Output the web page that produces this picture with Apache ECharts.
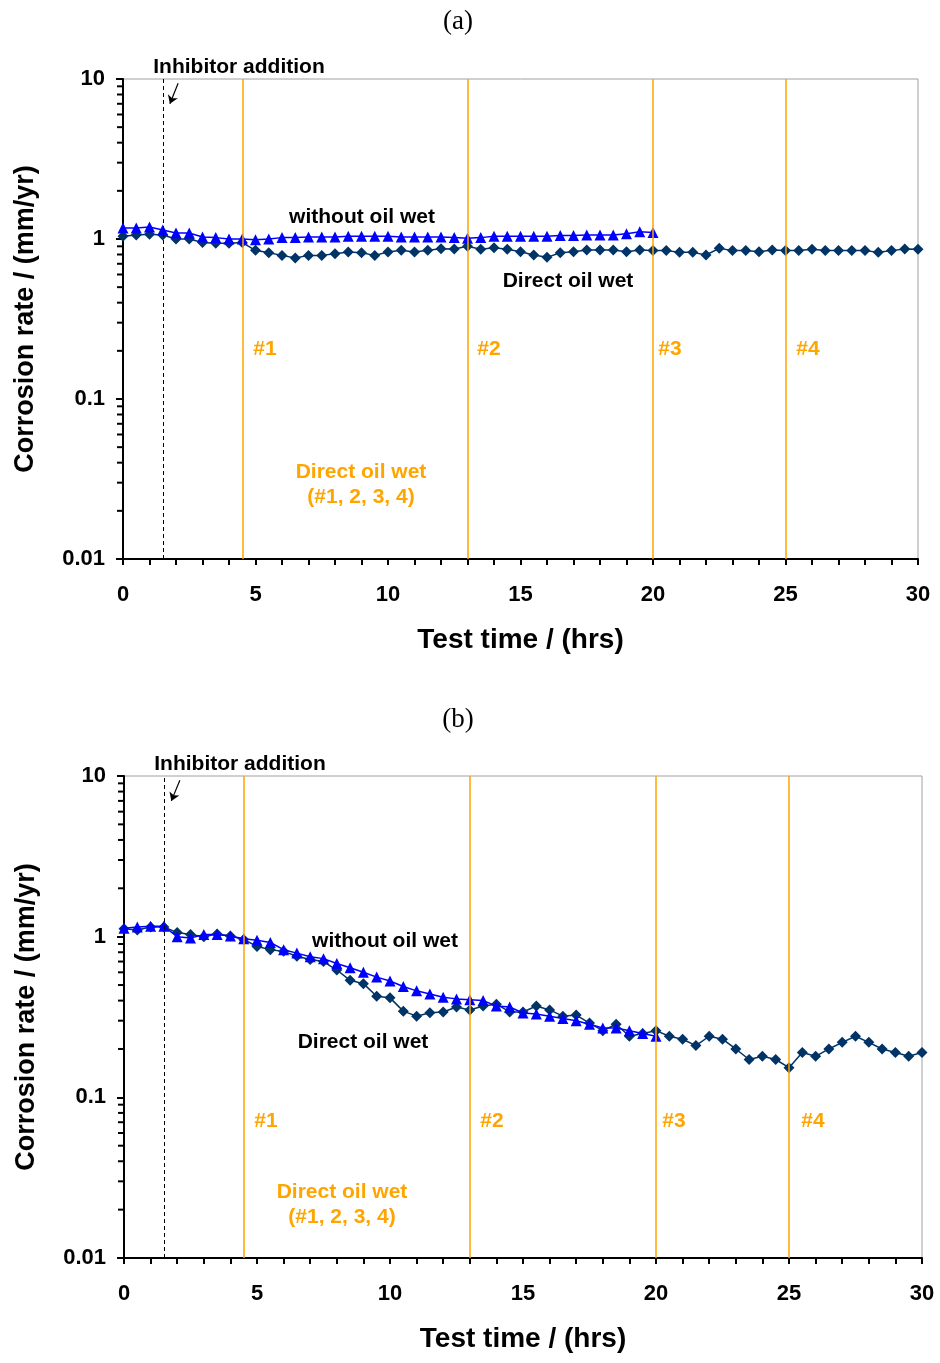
<!DOCTYPE html>
<html>
<head>
<meta charset="utf-8">
<script src="https://cdn.jsdelivr.net/npm/echarts@6/dist/echarts.min.js"></script>
<style>
  html, body { margin: 0; padding: 0; background: #fff; }
  #chart { width: 940px; height: 1363px; }
</style>
</head>
<body>
<div id="chart"></div>
<script>
// test time, hrs (readings every half hour)
var timeWithout = [0, 0.5, 1, 1.5, 2, 2.5, 3, 3.5, 4, 4.5, 5, 5.5, 6, 6.5, 7, 7.5, 8, 8.5, 9, 9.5,
  10, 10.5, 11, 11.5, 12, 12.5, 13, 13.5, 14, 14.5, 15, 15.5, 16, 16.5, 17, 17.5, 18, 18.5, 19, 19.5, 20];
var timeDirect = [0, 0.5, 1, 1.5, 2, 2.5, 3, 3.5, 4, 4.5, 5, 5.5, 6, 6.5, 7, 7.5, 8, 8.5, 9, 9.5,
  10, 10.5, 11, 11.5, 12, 12.5, 13, 13.5, 14, 14.5, 15, 15.5, 16, 16.5, 17, 17.5, 18, 18.5, 19, 19.5,
  20, 20.5, 21, 21.5, 22, 22.5, 23, 23.5, 24, 24.5, 25, 25.5, 26, 26.5, 27, 27.5, 28, 28.5, 29, 29.5, 30];

// (a) corrosion rate, mm/yr
var aWithout = [1.17, 1.17, 1.19, 1.14, 1.09, 1.09, 1.03, 1.02, 1.0, 1.0, 0.99, 1.0, 1.02, 1.02, 1.03, 1.03,
  1.03, 1.04, 1.04, 1.04, 1.04, 1.03, 1.03, 1.03, 1.03, 1.02, 1.01, 1.02, 1.04, 1.04, 1.04, 1.04, 1.04,
  1.05, 1.05, 1.06, 1.06, 1.06, 1.08, 1.11, 1.1];
var aDirect = [1.04, 1.06, 1.07, 1.06, 1.0, 1.0, 0.95, 0.94, 0.94, 0.95, 0.85, 0.82, 0.79, 0.76, 0.79, 0.79,
  0.81, 0.83, 0.82, 0.79, 0.83, 0.85, 0.83, 0.85, 0.87, 0.865, 0.9, 0.862, 0.883, 0.862, 0.833, 0.794,
  0.768, 0.821, 0.833, 0.853, 0.853, 0.853, 0.833, 0.853, 0.846, 0.846, 0.825, 0.825, 0.794, 0.874,
  0.846, 0.846, 0.833, 0.853, 0.846, 0.846, 0.862, 0.846, 0.846, 0.846, 0.846, 0.825, 0.846, 0.866, 0.862];

// (b) corrosion rate, mm/yr
var bWithout = [1.13, 1.15, 1.16, 1.16, 1.0, 0.98, 1.03, 1.03, 1.01, 0.97, 0.95, 0.92, 0.83, 0.79, 0.75,
  0.73, 0.68, 0.64, 0.60, 0.56, 0.53, 0.49, 0.46, 0.44, 0.42, 0.41, 0.405, 0.40, 0.37, 0.365, 0.335,
  0.33, 0.32, 0.31, 0.30, 0.285, 0.27, 0.27, 0.26, 0.25, 0.24];
var bDirect = [1.12, 1.1, 1.15, 1.15, 1.06, 1.03, 1.0, 1.04, 1.01, 0.96, 0.87, 0.83, 0.81, 0.755, 0.72,
  0.7, 0.62, 0.535, 0.51, 0.426, 0.416, 0.344, 0.32, 0.336, 0.34, 0.365, 0.35, 0.37, 0.38, 0.34, 0.34,
  0.37, 0.35, 0.32, 0.325, 0.29, 0.26, 0.285, 0.24, 0.25, 0.26, 0.24, 0.23, 0.21, 0.24, 0.23, 0.20,
  0.172, 0.18, 0.172, 0.153, 0.19, 0.18, 0.20, 0.22, 0.24, 0.22, 0.20, 0.19, 0.18, 0.19];

var eventTimes = [4.5, 13, 20, 25];   // #1..#4 oil wet events
var inhibitorTime = 1.5;
var minorTickValues = [0.02, 0.03, 0.04, 0.05, 0.06, 0.07, 0.08, 0.09,
  0.2, 0.3, 0.4, 0.5, 0.6, 0.7, 0.8, 0.9, 2, 3, 4, 5, 6, 7, 8, 9];

var ORANGE = '#FFA500';
var NAVY = '#003366';
var FONT = 'Liberation Sans, Arial, sans-serif';

function pairs(xs, ys) {
  return ys.map(function (v, i) { return [xs[i], v]; });
}

var chart = echarts.init(document.getElementById('chart'));

function makeX(idx) {
  return {
    gridIndex: idx, type: 'value', min: 0, max: 30, interval: 1,
    name: 'Test time / (hrs)', nameLocation: 'middle', nameGap: 67,
    nameTextStyle: { fontFamily: FONT, fontWeight: 'bold', fontSize: 28, color: '#000' },
    axisLine: { onZero: false, lineStyle: { color: '#000', width: 2 } },
    axisTick: { length: 6, lineStyle: { color: '#000', width: 2 } },
    axisLabel: {
      margin: 25, fontFamily: FONT, fontWeight: 'bold', fontSize: 22, color: '#000',
      formatter: function (v) { return v % 5 === 0 ? v : ''; }
    },
    splitLine: { show: false }
  };
}
function makeY(idx) {
  return {
    gridIndex: idx, type: 'log', logBase: 10, min: 0.01, max: 10, interval: 1,
    name: 'Corrosion rate / (mm/yr)', nameLocation: 'middle', nameGap: 84,
    nameTextStyle: { fontFamily: FONT, fontWeight: 'bold', fontSize: 27, color: '#000' },
    axisLine: { lineStyle: { color: '#000', width: 2 } },
    axisTick: { length: 7, lineStyle: { color: '#000', width: 2 } },
    axisLabel: { margin: 18, fontFamily: FONT, fontWeight: 'bold', fontSize: 22, color: '#000' },
    splitLine: { show: false }
  };
}

function vlines() {
  var d = eventTimes.map(function (t) {
    return { xAxis: t, lineStyle: { color: ORANGE, width: 1.5, type: 'solid' } };
  });
  d.push({ xAxis: inhibitorTime, lineStyle: { color: '#000', width: 1, type: [4, 3] } });
  return d;
}

function seriesFor(idx, without, direct, arrow) {
  return [
    {
      type: 'line', xAxisIndex: idx, yAxisIndex: idx, data: pairs(timeDirect, direct),
      symbol: 'diamond', symbolSize: 11, itemStyle: { color: NAVY },
      lineStyle: { color: NAVY, width: 1.5 }, z: 3,
      markLine: {
        silent: true, symbol: 'none', label: { show: false }, animation: false,
        data: vlines()
      }
    },
    {
      type: 'line', xAxisIndex: idx, yAxisIndex: idx, data: pairs(timeWithout, without),
      symbol: 'triangle', symbolSize: 11, itemStyle: { color: '#0000FF' },
      lineStyle: { color: '#0000FF', width: 1.5 }, z: 4,
      markLine: {
        silent: true, symbol: ['none', 'arrow'], symbolSize: 8, label: { show: false }, animation: false,
        lineStyle: { color: '#000', width: 1.2, type: 'solid' },
        data: [[{ coord: arrow[0] }, { coord: arrow[1] }]]
      }
    },
    {
      type: 'custom', xAxisIndex: idx, yAxisIndex: idx, clip: false, silent: true,
      data: minorTickValues.map(function (v) { return [0, v]; }),
      renderItem: function (params, api) {
        var p = api.coord([api.value(0), api.value(1)]);
        return {
          type: 'line',
          shape: { x1: p[0] - 6, y1: p[1], x2: p[0], y2: p[1] },
          style: { stroke: '#000', lineWidth: 2 }
        };
      }
    }
  ];
}

function txt(x, y, s, color, size, extra) {
  return {
    type: 'text', x: x, y: y, silent: true,
    style: Object.assign({
      text: s, fill: color || '#000', font: 'bold ' + (size || 21) + 'px ' + FONT,
      align: 'center', verticalAlign: 'middle'
    }, extra || {})
  };
}

var SERIF = { font: '27px Liberation Serif, Times New Roman, serif' };

var option = {
  animation: false,
  backgroundColor: '#fff',
  grid: [
    { left: 123, top: 79, width: 795, height: 480, show: true, borderColor: '#a0a0a0', borderWidth: 1 },
    { left: 124, top: 776, width: 798, height: 482, show: true, borderColor: '#a0a0a0', borderWidth: 1 }
  ],
  xAxis: [makeX(0), makeX(1)],
  yAxis: [makeY(0), makeY(1)],
  series: [].concat(
    seriesFor(0, aWithout, aDirect, [[2.08, 9.4], [1.77, 7.0]]),
    seriesFor(1, bWithout, bDirect, [[2.1, 9.4], [1.78, 7.0]])
  ),
  graphic: [
    txt(458, 22, '(a)', '#000', 27, SERIF),
    txt(458, 720, '(b)', '#000', 27, SERIF),
    txt(239, 67, 'Inhibitor addition'),
    txt(362, 217, 'without oil wet'),
    txt(568, 281, 'Direct oil wet'),
    txt(265, 349, '#1', ORANGE),
    txt(489, 349, '#2', ORANGE),
    txt(670, 349, '#3', ORANGE),
    txt(808, 349, '#4', ORANGE),
    txt(361, 472, 'Direct oil wet', ORANGE),
    txt(361, 497, '(#1, 2, 3, 4)', ORANGE),
    txt(240, 764, 'Inhibitor addition'),
    txt(385, 941, 'without oil wet'),
    txt(363, 1042, 'Direct oil wet'),
    txt(266, 1121, '#1', ORANGE),
    txt(492, 1121, '#2', ORANGE),
    txt(674, 1121, '#3', ORANGE),
    txt(813, 1121, '#4', ORANGE),
    txt(342, 1192, 'Direct oil wet', ORANGE),
    txt(342, 1217, '(#1, 2, 3, 4)', ORANGE)
  ]
};
chart.setOption(option);
</script>
</body>
</html>
